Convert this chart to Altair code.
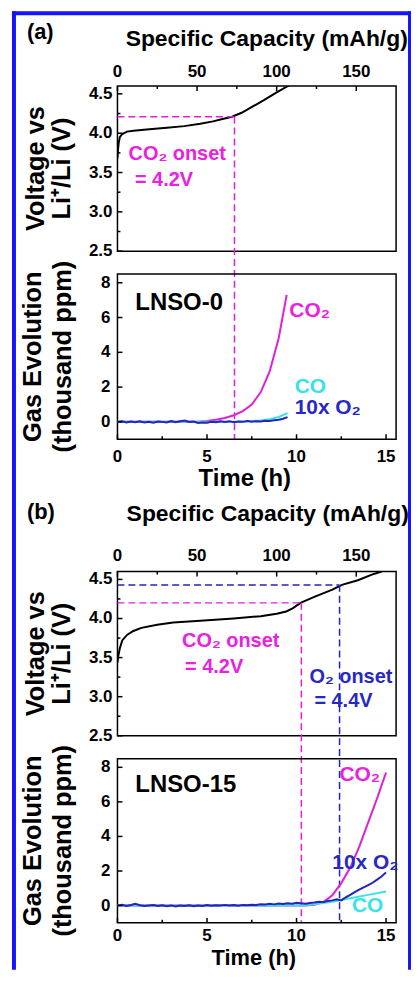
import altair as alt
import pandas as pd

# ---------------- data ----------------
# Panel (a) LNSO-0: voltage profile
a_cap = [0, 0.3, 0.8, 1.5, 3, 6, 10, 20, 31, 42, 52, 60, 66, 72, 78, 85, 92, 100, 108]
a_volt = [3.68, 3.78, 3.88, 3.95, 3.99, 4.02, 4.03, 4.05, 4.07, 4.09, 4.12, 4.15, 4.18, 4.21, 4.26, 4.34, 4.42, 4.52, 4.61]

# Panel (a) gas evolution (thousand ppm)
a_co2_time = [0, 1, 2, 3, 4, 4.5, 5, 5.5, 6, 6.5, 7, 7.5, 8, 8.5, 9, 9.2, 9.45]
a_co2 = [0, 0, 0, 0, 0, 0.01, 0.05, 0.12, 0.22, 0.38, 0.62, 1.0, 1.7, 2.9, 4.8, 5.9, 7.3]
a_co_time = [0, 2, 4, 6, 7, 8, 8.5, 9, 9.5]
a_co = [0, 0, 0, 0, 0.02, 0.08, 0.15, 0.28, 0.5]
a_o2_time = [0, 0.25, 0.5, 0.75, 1, 1.25, 1.5, 1.75, 2, 2.25, 2.5, 2.75, 3, 3.25, 3.5, 3.75,
             4, 4.25, 4.5, 4.75, 5, 5.25, 5.5, 5.75, 6, 6.25, 6.5, 6.75, 7, 7.25, 7.5, 7.75,
             8, 8.25, 8.5, 8.75, 9, 9.25, 9.5]
a_o2 = [0.00, 0.03, -0.04, 0.02, -0.02, 0.04, -0.03, 0.01, -0.05, 0.02, 0.00, -0.03, 0.05, -0.02, 0.03, 0.08,
        -0.01, 0.02, -0.06, -0.03, -0.05, 0.01, -0.02, 0.03, -0.01, 0.04, -0.02, 0.02, 0.00, 0.05, 0.01, 0.04,
        0.02, 0.06, 0.05, 0.09, 0.12, 0.18, 0.27]

# Panel (b) LNSO-15: voltage profile
b_cap = [0, 0.5, 1.5, 3, 6, 10, 15, 25, 35, 52, 73, 90, 100, 106, 110, 115, 124, 135, 141, 151, 161, 166]
b_volt = [3.44, 3.52, 3.62, 3.72, 3.79, 3.84, 3.88, 3.92, 3.95, 3.97, 4.00, 4.03, 4.06, 4.09, 4.13, 4.20,
          4.28, 4.37, 4.43, 4.49, 4.57, 4.60]

# Panel (b) gas evolution
b_co2_time = [0, 2, 4, 6, 8, 10, 10.5, 11, 11.5, 12, 12.5, 13, 13.5, 14, 14.5, 15]
b_co2 = [0, 0, 0, 0, 0, 0, 0.01, 0.05, 0.2, 0.6, 1.3, 2.2, 3.4, 4.8, 6.2, 7.7]
b_co_time = [0, 5, 10, 10.5, 11, 12, 13, 14, 15]
b_co = [0, 0, 0, 0.02, 0.07, 0.22, 0.42, 0.62, 0.82]
b_o2_time = [0, 0.25, 0.5, 0.75, 1, 1.25, 1.5, 1.75, 2, 2.25, 2.5, 2.75, 3, 3.25, 3.5, 3.75,
             4, 4.25, 4.5, 4.75, 5, 5.25, 5.5, 5.75, 6, 6.25, 6.5, 6.75, 7, 7.25, 7.5, 7.75,
             8, 8.25, 8.5, 8.75, 9, 9.25, 9.5, 9.75, 10, 10.25, 10.5, 10.75, 11, 11.25, 11.5, 11.75,
             12, 12.25, 12.5, 12.75, 13, 13.25, 13.5, 13.75, 14, 14.25, 14.5, 14.75, 15]
b_o2 = [0.00, 0.04, -0.02, 0.03, 0.10, 0.02, -0.03, 0.01, 0.03,
        -0.02, 0.02, -0.04, 0.01, -0.05, 0.00, -0.03, 0.02,
        -0.04, 0.01, -0.02, 0.03, -0.01, 0.02, 0.00, 0.04,
        0.01, 0.03, -0.01, 0.04, 0.02, 0.05, 0.03, 0.08,
        0.06, 0.10, 0.07, 0.12, 0.09, 0.14, 0.11, 0.16,
        0.13, 0.10, 0.15, 0.18, 0.22, 0.20, 0.26, 0.30,
        0.36, 0.30, 0.48, 0.62, 0.78, 0.92, 1.05, 1.18, 1.32, 1.50, 1.68, 1.92]

# onset markers (capacity, voltage)
a_onset_cap = [73.5]
a_onset_volt = [4.21]
b_co2_onset_cap = [115.5]
b_co2_onset_volt = [4.20]
b_o2_onset_cap = [139.5]
b_o2_onset_volt = [4.43]

# axis ticks and tick labels
cap_major = [0, 50, 100, 150]
cap_labels = ["0", "50", "100", "150"]
cap_minor = [25, 75, 125]
volt_major = [2.5, 3.0, 3.5, 4.0, 4.5]
volt_labels = ["2.5", "3.0", "3.5", "4.0", "4.5"]
volt_minor = [2.75, 3.25, 3.75, 4.25]
time_major = [0, 5, 10, 15]
time_labels = ["0", "5", "10", "15"]
time_minor = [2.5, 7.5, 12.5]
gas_major = [0, 2, 4, 6, 8]
gas_labels = ["0", "2", "4", "6", "8"]

cap_dom = [0, 175]
volt_dom = [2.5, 4.6]
time_dom = [0, 15.56]
gas_dom = [-1, 8.5]

# ---------------- styling ----------------
FONT = "Liberation Sans"
MAGENTA = "#e020d8"
MAGENTA_TXT = "#e822e0"
CYAN = "#38e2e6"
BLUE = "#2424b8"
BLUE_TXT = "#2828c4"
BORDER = "#1414ff"
W, GAP = 280, 23
HA, HB = 166, 165          # panel heights for (a) and (b)
SPACER = 133 - 2 * GAP
YT = 25.5                  # y-axis title font size


def sc(dom):
    return alt.Scale(domain=dom, nice=False, zero=False)


def one(label):
    return pd.DataFrame({"t": [label]})


def line(xv, yv, xdom, ydom, color, clip=False):
    df = pd.DataFrame({"x": xv, "y": yv})
    return alt.Chart(df).mark_line(color=color, strokeWidth=2, clip=clip).encode(
        x=alt.X("x:Q", scale=sc(xdom), axis=None),
        y=alt.Y("y:Q", scale=sc(ydom), axis=None),
    )


def text(label, xv, yv, xdom, ydom, color, size=20, align="left"):
    df = pd.DataFrame({"x": [xv], "y": [yv], "t": [label]})
    return alt.Chart(df).mark_text(
        align=align, baseline="middle", font=FONT, fontWeight="bold", fontSize=size, color=color
    ).encode(
        x=alt.X("x:Q", scale=sc(xdom), axis=None),
        y=alt.Y("y:Q", scale=sc(ydom), axis=None),
        text="t:N",
    )


def ptext(label, px, py, size=24, angle=0, align="center", baseline="middle"):
    """Fixed-position label (axis titles, panel letters)."""
    return alt.Chart(one(label)).mark_text(
        align=align, baseline=baseline, font=FONT, fontWeight="bold", fontSize=size,
        color="black", angle=angle,
    ).encode(x=alt.value(px), y=alt.value(py), text="t:N")


def yticks(vals, length, dom):
    return alt.Chart(pd.DataFrame({"t": vals})).mark_rule(color="black", strokeWidth=1.5).encode(
        y=alt.Y("t:Q", scale=sc(dom), axis=None), x=alt.value(0), x2=alt.value(length)
    )


def xticks(vals, length, dom, y0, y1):
    return alt.Chart(pd.DataFrame({"t": vals})).mark_rule(color="black", strokeWidth=1.5).encode(
        x=alt.X("t:Q", scale=sc(dom), axis=None), y=alt.value(y0), y2=alt.value(y1)
    )


def ylabels(vals, labels, dom, pad):
    return alt.Chart(pd.DataFrame({"v": vals, "l": labels})).mark_text(
        align="right", baseline="middle", font=FONT, fontWeight="bold", fontSize=17, color="black"
    ).encode(y=alt.Y("v:Q", scale=sc(dom), axis=None), x=alt.value(-pad), text="l:N")


def xlabels(vals, labels, dom, py):
    return alt.Chart(pd.DataFrame({"v": vals, "l": labels})).mark_text(
        align="center", baseline="alphabetic", font=FONT, fontWeight="bold", fontSize=17, color="black"
    ).encode(x=alt.X("v:Q", scale=sc(dom), axis=None), y=alt.value(py), text="l:N")


def onset(cap, volt, color, h):
    df = pd.DataFrame({"start": [cap_dom[0]] * len(cap), "cap": cap, "v": volt})
    hor = alt.Chart(df).mark_rule(color=color, strokeWidth=1.5, strokeDash=[7, 4]).encode(
        x=alt.X("start:Q", scale=sc(cap_dom), axis=None), x2="cap:Q",
        y=alt.Y("v:Q", scale=sc(volt_dom), axis=None),
    )
    ver = alt.Chart(df).mark_rule(color=color, strokeWidth=1.5, strokeDash=[7, 4]).encode(
        x=alt.X("cap:Q", scale=sc(cap_dom), axis=None),
        y=alt.Y("v:Q", scale=sc(volt_dom), axis=None),
        y2=alt.value(2 * h + GAP),
    )
    return [hor, ver]


def border_rects():
    def r(x, x2, y, y2):
        return alt.Chart(one("b")).mark_rect(color=BORDER).encode(
            x=alt.value(x), x2=alt.value(x2), y=alt.value(y), y2=alt.value(y2))
    return [
        r(-106, -102, -75, 888),   # left
        r(-106, 295, -75, -71),    # top
        r(292, 295, -75, 888),     # right
    ]


def voltage_panel(cap, volt, extra, letter, letter_y, title_x, title_y, top_lab_y, h, border=False):
    df = pd.DataFrame({"cap": cap, "v": volt})
    curve = alt.Chart(df).mark_line(color="black", strokeWidth=2, clip=True).encode(
        x=alt.X("cap:Q", scale=sc(cap_dom), axis=None),
        y=alt.Y("v:Q", scale=sc(volt_dom), axis=None),
    )
    layers = [curve] + extra + [
        yticks(volt_major, 5, volt_dom), yticks(volt_minor, 3, volt_dom),
        xticks(cap_major, 5, cap_dom, 0, 5), xticks(cap_minor, 3, cap_dom, 0, 3),
        ylabels(volt_major, volt_labels, volt_dom, 5),
        xlabels(cap_major, cap_labels, cap_dom, top_lab_y),
        ptext("Specific Capacity (mAh/g)", title_x, title_y, 23, baseline="alphabetic"),
        ptext("Voltage vs", -82, h / 2, YT, angle=270),
        ptext("Li⁺/Li (V)", -56, h / 2, YT, angle=270),
        ptext(letter, -91, letter_y, 22, align="left"),
    ]
    if border:
        layers += border_rects()
    return alt.layer(*layers).properties(width=W, height=h)


def gas_panel(series, extra, title_x, title_y, lab_y, h, title_size=24):
    layers = [line(t, v, time_dom, gas_dom, c) for t, v, c in series] + extra + [
        yticks(gas_major, 5, gas_dom),
        xticks(time_major, 5, time_dom, h, h - 5), xticks(time_minor, 3, time_dom, h, h - 3),
        ylabels(gas_major, gas_labels, gas_dom, 7),
        xlabels(time_major, time_labels, time_dom, lab_y),
        ptext("Time (h)", title_x, title_y, title_size, baseline="alphabetic"),
        ptext("Gas Evolution", -85, h / 2, YT, angle=270),
        ptext("(thousand ppm)", -55, h / 2, YT, angle=270),
    ]
    return alt.layer(*layers).properties(width=W, height=h)


# ---------------- panel (a) ----------------
va = voltage_panel(
    a_cap, a_volt,
    onset(a_onset_cap, a_onset_volt, MAGENTA, HA) + [
        text("CO₂ onset", 7, 3.74, cap_dom, volt_dom, MAGENTA_TXT),
        text("= 4.2V", 11, 3.40, cap_dom, volt_dom, MAGENTA_TXT),
    ],
    "(a)", -54, 150, -40, -9, HA, border=True,
)
ga = gas_panel(
    [(a_co2_time, a_co2, MAGENTA), (a_co_time, a_co, CYAN), (a_o2_time, a_o2, BLUE)],
    [
        text("LNSO-0", 1.0, 6.81, time_dom, gas_dom, "black", 24),
        text("CO₂", 9.6, 6.38, time_dom, gas_dom, MAGENTA_TXT, 21),
        text("CO", 9.9, 2.03, time_dom, gas_dom, CYAN, 21),
        text("10x O₂", 9.9, 0.80, time_dom, gas_dom, BLUE_TXT, 21),
    ],
    128, HA + 47, HA + 22.5, HA,
)

# ---------------- panel (b) ----------------
vb = voltage_panel(
    b_cap, b_volt,
    onset(b_co2_onset_cap, b_co2_onset_volt, MAGENTA, HB) + onset(b_o2_onset_cap, b_o2_onset_volt, BLUE, HB) + [
        text("CO₂ onset", 40.6, 3.71, cap_dom, volt_dom, MAGENTA_TXT),
        text("= 4.2V", 42.5, 3.38, cap_dom, volt_dom, MAGENTA_TXT),
        text("O₂ onset", 120.6, 3.25, cap_dom, volt_dom, BLUE_TXT),
        text("= 4.4V", 123.7, 2.94, cap_dom, volt_dom, BLUE_TXT),
    ],
    "(b)", -60, 151, -51, -11, HB,
)
gb = gas_panel(
    [(b_co2_time, b_co2, MAGENTA), (b_co_time, b_co, CYAN), (b_o2_time, b_o2, BLUE)],
    [
        text("LNSO-15", 1.0, 6.98, time_dom, gas_dom, "black", 24),
        text("CO₂", 12.4, 7.58, time_dom, gas_dom, MAGENTA_TXT, 21),
        text("10x O₂", 12.0, 2.49, time_dom, gas_dom, BLUE_TXT, 21),
        text("CO", 13.1, -0.03, time_dom, gas_dom, CYAN, 21),
    ],
    137, HB + 42.5, HB + 18, HB, title_size=22,
)

spacer = alt.Chart(one("")).mark_text(opacity=0).encode(
    x=alt.value(0), y=alt.value(0), text="t:N"
).properties(width=W, height=SPACER, view=alt.ViewBackground(strokeOpacity=0))

chart = alt.vconcat(
    va, ga, spacer, vb, gb, spacing=GAP, bounds="flush",
).properties(
    padding={"left": 3, "top": 0, "right": 0, "bottom": 0}, background="white"
).configure_view(
    stroke="black", strokeWidth=1.5
)

chart.save("out.html", embed_options={"renderer": "svg", "actions": False})
